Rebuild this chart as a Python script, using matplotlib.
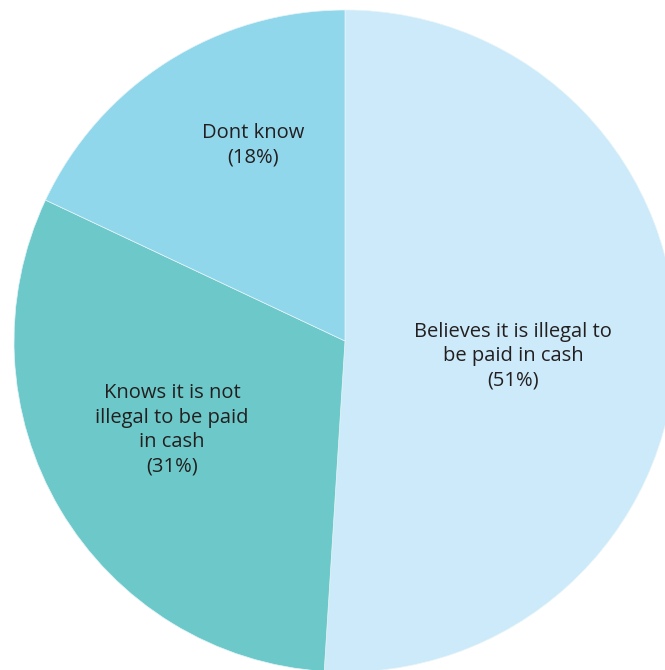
import matplotlib.pyplot as plt

labels = ["Believes it is illegal to\nbe paid in cash\n(51%)",
          "Knows it is not\nillegal to be paid\nin cash\n(31%)",
          "Dont know\n(18%)"]
shares = [51, 31, 18]
colors = ["#CCEAF9", "#6DC9C9", "#91D7EC"]

fig = plt.figure(figsize=(6.65, 6.7), dpi=100)
ax = fig.add_axes([0, 0, 1, 1])

cx, cy, r = 345, 670 - 341, 331
wedges, _ = ax.pie(shares, colors=colors, startangle=90, counterclock=False,
                   center=(cx, cy), radius=r, frame=True,
                   wedgeprops=dict(edgecolor="#E6F4F8", linewidth=0.5))

# label positions in pixel coords (y measured from top)
pos = [(513, 356), (172, 430), (253, 145)]
for lab, (x, y) in zip(labels, pos):
    ax.text(x, 670 - y, lab, ha="center", va="center", fontsize=14.5,
            family="Open Sans", color="#231F20", linespacing=1.3)

ax.set_xlim(0, 665)
ax.set_ylim(0, 670)
ax.axis("off")
fig.savefig("out.png", dpi=100)
